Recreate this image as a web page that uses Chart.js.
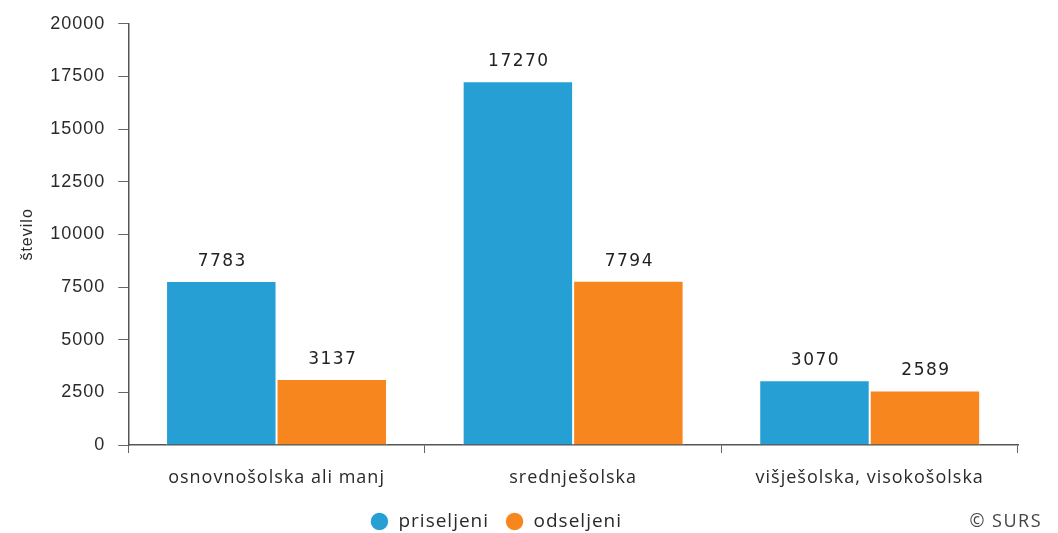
<!DOCTYPE html>
<html>
<head>
<meta charset="utf-8">
<script src="https://cdn.jsdelivr.net/npm/chart.js@4/dist/chart.umd.min.js"></script>
<style>
  html, body { margin: 0; padding: 0; background: #fff; }
  #wrap { position: relative; width: 1058px; height: 533px; }
  #copy {
    position: absolute; right: 16px; bottom: 1px;
    font: 18px "Open Sans", sans-serif; color: #444; letter-spacing: 1.5px;
  }
</style>
</head>
<body>
<div id="wrap">
  <canvas id="chart" width="1058" height="533"></canvas>
  <div id="copy">© SURS</div>
</div>
<script>
// data
const categories = ['osnovnošolska ali manj', 'srednješolska', 'višješolska, visokošolska'];
const priseljeni = [7783, 17270, 3070];
const odseljeni = [3137, 7794, 2589];
const yTicks = [0, 2500, 5000, 7500, 10000, 12500, 15000, 17500, 20000];

const blue = 'rgb(38,160,212)';
const orange = 'rgb(248,134,30)';

// the source picture is a bit stretched sideways, so widen text a little
const spacingPlugin = {
    id: 'spacing',
    beforeUpdate(chart) { chart.ctx.letterSpacing = '1px'; },
    beforeDraw(chart) { chart.ctx.letterSpacing = '1px'; },
    // legend sits a bit left of the canvas centre and low in the original
    afterLayout(chart) {
        const lg = chart.legend;
        const dy = 496 - lg.top;
        lg.left -= 22;
        lg.right -= 22;
        lg.top += dy;
        lg.bottom += dy;
    }
};

// numbers above the bars
const valueLabels = {
    id: 'valueLabels',
    afterDatasetsDraw(chart) {
        const ctx = chart.ctx;
        ctx.save();
        ctx.letterSpacing = '1.5px';
        ctx.font = '17px "DejaVu Sans", sans-serif';
        ctx.fillStyle = '#222';
        ctx.textAlign = 'center';
        ctx.textBaseline = 'bottom';
        chart.data.datasets.forEach((ds, i) => {
            chart.getDatasetMeta(i).data.forEach((bar, j) => {
                ctx.fillText(ds.data[j], bar.x + 1, bar.y - 11);
            });
        });
        ctx.restore();
    }
};

new Chart(document.getElementById('chart').getContext('2d'), {
    type: 'bar',
    data: {
        labels: categories,
        datasets: [
            { label: 'priseljeni', data: priseljeni, backgroundColor: blue, borderColor: '#fff', borderWidth: 1 },
            { label: 'odseljeni', data: odseljeni, backgroundColor: orange, borderColor: '#fff', borderWidth: 1 }
        ]
    },
    options: {
        responsive: false,
        animation: false,
        layout: { padding: { top: 14, right: 40, left: 18, bottom: -21 } },
        datasets: { bar: { categoryPercentage: 0.745, barPercentage: 1 } },
        scales: {
            x: {
                grid: { drawOnChartArea: false, drawTicks: true, tickLength: 8, color: '#666', offset: true },
                border: { color: '#555', width: 1.5 },
                ticks: { color: '#2a2a2a', font: { family: '"Open Sans", sans-serif', size: 18 }, padding: 14 },
                afterFit: axis => { axis.height = 64; }
            },
            y: {
                min: 0,
                max: 20000,
                afterBuildTicks: axis => { axis.ticks = yTicks.map(v => ({ value: v })); },
                grid: { drawOnChartArea: false, drawTicks: true, tickLength: 10, color: '#666' },
                border: { color: '#555', width: 1.5 },
                ticks: {
                    color: '#2a2a2a',
                    font: { family: '"Liberation Sans", Arial, sans-serif', size: 18 },
                    padding: 13,
                    callback: v => String(v)
                },
                title: { display: true, text: 'število', color: '#2a2a2a', font: { family: '"Liberation Sans", Arial, sans-serif', size: 16 }, padding: { top: 0, bottom: 0 } }
            }
        },
        plugins: {
            legend: {
                position: 'bottom',
                labels: {
                    usePointStyle: true,
                    pointStyle: 'circle',
                    boxHeight: 13,
                    color: '#2a2a2a',
                    padding: 16,
                    font: { family: '"Open Sans", sans-serif', size: 19 }
                }
            },
            tooltip: { enabled: false }
        }
    },
    plugins: [spacingPlugin, valueLabels]
});
</script>
</body>
</html>
